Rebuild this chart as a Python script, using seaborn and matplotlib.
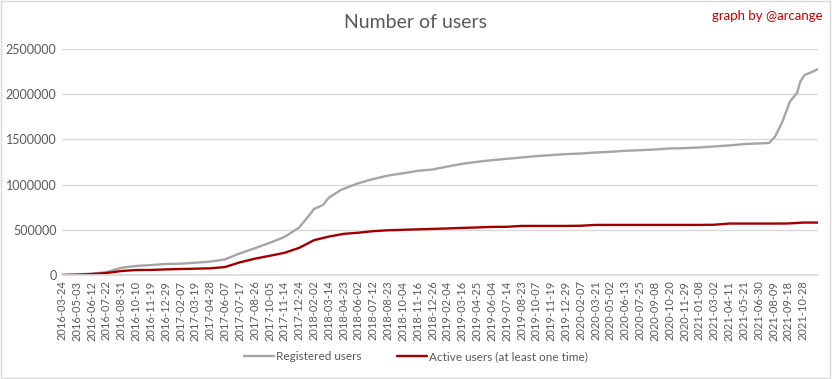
import numpy as np
import pandas as pd
import matplotlib.pyplot as plt
import seaborn as sns

# Tick labels of the category axis (one every 40 points)
tick_labels = [
    "2016-03-24", "2016-05-03", "2016-06-12", "2016-07-22", "2016-08-31", "2016-10-10",
    "2016-11-19", "2016-12-29", "2017-02-07", "2017-03-19", "2017-04-28", "2017-06-07",
    "2017-07-17", "2017-08-26", "2017-10-05", "2017-11-14", "2017-12-24", "2018-02-02",
    "2018-03-14", "2018-04-23", "2018-06-02", "2018-07-12", "2018-08-23", "2018-10-04",
    "2018-11-16", "2018-12-26", "2019-02-04", "2019-03-16", "2019-04-25", "2019-06-04",
    "2019-07-14", "2019-08-23", "2019-10-07", "2019-11-19", "2019-12-29", "2020-02-07",
    "2020-03-21", "2020-05-02", "2020-06-13", "2020-07-25", "2020-09-08", "2020-10-20",
    "2020-11-29", "2021-01-08", "2021-03-02", "2021-04-11", "2021-05-21", "2021-06-30",
    "2021-08-09", "2021-09-18", "2021-10-28",
]

# Position of each reading, in tick units (0 = first label)
reg_pos = (list(range(0, 16)) + [16, 16.6, 17, 17.6, 18, 18.8, 19.9] + list(range(21, 48))
           + [47.7, 48.1, 48.6, 49.1, 49.6, 49.8, 50.1, 50.5, 51])
registered = [
    0, 7000, 15000, 32000, 80000, 100000, 110000, 122000, 125000, 136000,
    148000, 173000, 240000, 295000, 355000, 420000,
    525000, 645000, 730000, 774000, 855000, 940000, 1010000,
    1062000, 1100000, 1125000, 1152000, 1167000, 1200000, 1230000, 1252000, 1270000,
    1285000, 1300000, 1315000, 1326000, 1337000, 1344000, 1355000, 1363000, 1374000, 1381000,
    1388000, 1400000, 1403000, 1411000, 1422000, 1433000, 1448000, 1455000,
    1460000, 1530000, 1696000, 1917000, 2017000, 2138000, 2212000, 2240000, 2277000,
]

act_pos = list(range(0, 52))
active = [
    0, 3000, 10000, 22000, 44000, 55000, 56000, 62000, 66000, 70000,
    74000, 88000, 140000, 180000, 212000, 245000, 300000, 385000, 425000, 455000,
    468000, 485000, 495000, 500000, 505000, 510000, 515000, 521000, 526000, 532000,
    533000, 543000, 543000, 543000, 543000, 545000, 554000, 554000, 554000, 554000,
    554000, 554000, 554000, 554000, 556000, 569000, 569000, 569000, 569000, 570000,
    580000, 580000,
]

df = pd.concat([
    pd.DataFrame({"x": reg_pos, "users": registered, "serie": "Registered users"}),
    pd.DataFrame({"x": act_pos, "users": active, "serie": "Active users (at least one time)"}),
])

sns.set_theme(style="white")
plt.rcParams["font.family"] = ["Lato", "DejaVu Sans"]

fig = plt.figure(figsize=(8.32, 3.79), dpi=100)
ax = fig.add_axes([62 / 832, 1 - 275 / 379, (818 - 62) / 832, (275 - 49) / 379])

sns.lineplot(
    data=df, x="x", y="users", hue="serie", ax=ax,
    palette={"Registered users": "#A5A5A5", "Active users (at least one time)": "#A00000"},
    linewidth=1.7, legend=False,
)

ax.set_xlim(0, 51)
ax.set_ylim(0, 2500000)
ax.set_yticks(np.arange(0, 2500001, 500000))
ax.set_yticklabels([str(v) for v in range(0, 2500001, 500000)], fontsize=9, color="#595959")
ax.set_xticks(range(len(tick_labels)))
ax.set_xticklabels(tick_labels, rotation=90, fontsize=8, color="#595959")
ax.tick_params(axis="both", length=0, pad=4)
ax.set_xlabel("")
ax.set_ylabel("")
ax.yaxis.grid(True, color="#D9D9D9", linewidth=1)
for s in ["top", "right", "left"]:
    ax.spines[s].set_visible(False)
ax.spines["bottom"].set_color("#D9D9D9")

fig.text(0.5, 1 - 22 / 379, "Number of users", ha="center", va="center",
         fontsize=14, color="#595959")
fig.text(823 / 832, 1 - 16 / 379, "graph by @arcange", ha="right", va="center",
         fontsize=9.5, color="#C00000")

# legend at the bottom
handles = [
    plt.Line2D([], [], color="#A5A5A5", linewidth=1.7),
    plt.Line2D([], [], color="#A00000", linewidth=1.7),
]
fig.legend(handles, ["Registered users", "Active users (at least one time)"],
           loc="center", bbox_to_anchor=(0.5, 1 - 357 / 379), ncol=2, frameon=False,
           fontsize=8.5, labelcolor="#595959", handlelength=2.5, handletextpad=0.2,
           columnspacing=3)

fig.patches.append(plt.Rectangle((0.001, 0.002), 0.997, 0.995, transform=fig.transFigure,
                                 fill=False, edgecolor="#D9D9D9", linewidth=1))

fig.savefig("out.png", dpi=100)
